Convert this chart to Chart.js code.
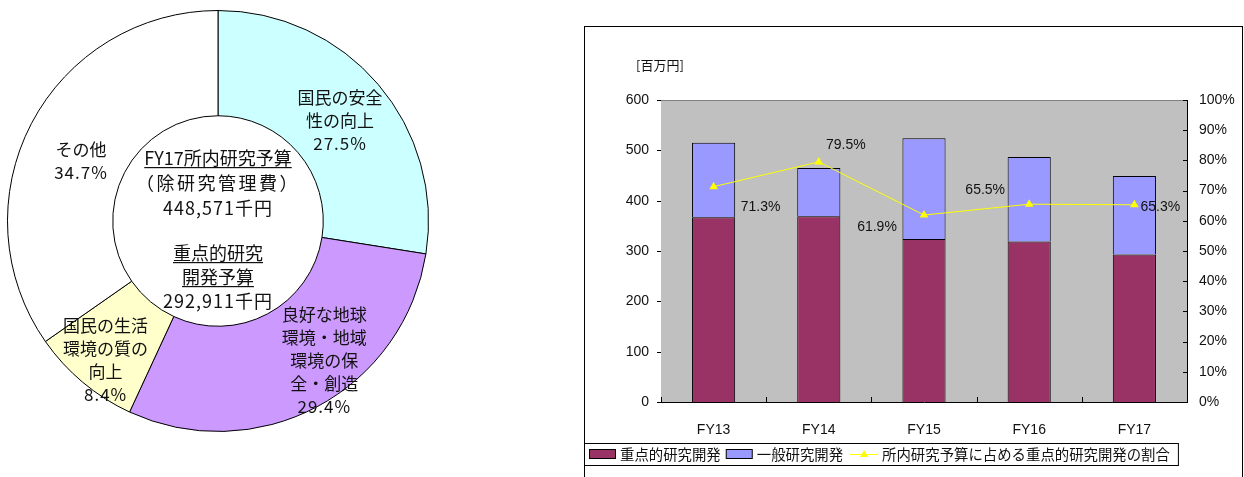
<!DOCTYPE html>
<html>
<head>
<meta charset="utf-8">
<script src="https://cdn.jsdelivr.net/npm/chart.js@4.4.0/dist/chart.umd.min.js"></script>
<style>
  body { margin: 0; background: #fff; width: 1244px; height: 477px; overflow: hidden; position: relative; }
  #donut { position: absolute; left: 0; top: 0; }
  #frame { position: absolute; left: 584px; top: 26px; width: 659px; height: 470px; border: 1px solid #000; box-sizing: border-box; }
  #bars { position: absolute; left: 584px; top: 26px; }
</style>
</head>
<body>
<canvas id="donut" width="440" height="445"></canvas>
<div id="frame"></div>
<canvas id="bars" width="658" height="451"></canvas>
<script>
// 円グラフ: FY17 重点的研究開発予算の内訳
const fieldNames = [
  ['国民の安全', '性の向上'],
  ['良好な地球', '環境・地域', '環境の保', '全・創造'],
  ['国民の生活', '環境の質の', '向上'],
  ['その他']
];
const fieldShares = [27.5, 29.4, 8.4, 34.7];
const centerLines = ['FY17所内研究予算', '（除研究管理費）', '448,571千円', '重点的研究', '開発予算', '292,911千円'];

// 棒グラフ: 年度別予算 [百万円] と重点的研究開発の割合
const years = ['FY13', 'FY14', 'FY15', 'FY16', 'FY17'];
const priorityRD = [367, 369, 324, 319, 293];
const generalRD = [148, 96, 200, 168, 156];
const priorityShare = [71.3, 79.5, 61.9, 65.5, 65.3];
const yTicks = [0, 100, 200, 300, 400, 500, 600];

const jpFont = '"Noto Sans CJK JP", "Noto Sans", sans-serif';
const numFont = '"Liberation Sans", Arial, sans-serif';

// ---- donut ----
const donutText = {
  id: 'donutText',
  afterDraw(chart) {
    const ctx = chart.ctx;
    const arcs = chart.getDatasetMeta(0).data;
    const shift = [[2, 2], [32, 0], [-11, 18], [3, 13]];
    ctx.save();
    ctx.fillStyle = '#111';
    ctx.textAlign = 'center';
    ctx.textBaseline = 'middle';
    arcs.forEach((arc, i) => {
      const p = arc.getCenterPoint();
      const lines = fieldNames[i].concat([fieldShares[i].toFixed(1) + '%']);
      const lh = 23;
      const y0 = p.y + shift[i][1] - (lines.length - 1) * lh / 2;
      lines.forEach((t, k) => {
        ctx.font = '17px ' + jpFont;
        ctx.letterSpacing = (k === lines.length - 1) ? '1px' : '0px';
        ctx.fillText(t, p.x + shift[i][0], y0 + k * lh);
      });
    });
    // 中央の文字
    const cx = arcs[0].x, cy = arcs[0].y;
    const dy = [-63, -38, -13, 32, 56, 80];
    const under = [true, false, false, true, true, false];
    const spacing = ['0px', '2.5px', '1px', '0px', '0px', '1px'];
    ctx.font = '18px ' + jpFont;
    centerLines.forEach((t, k) => {
      ctx.letterSpacing = spacing[k];
      ctx.fillText(t, cx, cy + dy[k]);
      if (under[k]) {
        const w = ctx.measureText(t).width;
        ctx.fillRect(cx - w / 2, cy + dy[k] + 9, w, 1.2);
      }
    });
    ctx.restore();
  }
};

new Chart(document.getElementById('donut'), {
  type: 'doughnut',
  data: {
    labels: fieldNames.map(n => n.join('')),
    datasets: [{
      data: fieldShares,
      backgroundColor: ['#ccffff', '#cc99ff', '#ffffcc', '#ffffff'],
      borderColor: '#000',
      borderWidth: 1
    }]
  },
  options: {
    responsive: false,
    animation: false,
    cutout: '50%',
    layout: { padding: { left: 7, right: 11, top: 10, bottom: 13 } },
    plugins: { legend: { display: false }, tooltip: { enabled: false } }
  },
  plugins: [donutText]
});

// ---- bar + line ----
const barDeco = {
  id: 'barDeco',
  beforeDatasetsDraw(chart) {
    const { ctx, chartArea: a } = chart;
    ctx.save();
    ctx.fillStyle = '#c0c0c0';
    ctx.fillRect(a.left, a.top, a.right - a.left, a.bottom - a.top);
    ctx.strokeStyle = '#808080';
    ctx.lineWidth = 1;
    ctx.beginPath();
    ctx.moveTo(a.left, a.top + 0.5);
    ctx.lineTo(a.right, a.top + 0.5);
    ctx.stroke();
    ctx.restore();
  },
  afterDraw(chart) {
    const { ctx, chartArea: a, scales } = chart;
    ctx.save();
    ctx.strokeStyle = '#000';
    ctx.lineWidth = 1;
    ctx.beginPath();
    // 目盛り線
    scales.y.ticks.forEach(t => {
      const y = Math.round(scales.y.getPixelForValue(t.value)) + 0.5;
      ctx.moveTo(a.left - 4, y); ctx.lineTo(a.left, y);
    });
    scales.y1.ticks.forEach(t => {
      const y = Math.round(scales.y1.getPixelForValue(t.value)) + 0.5;
      ctx.moveTo(a.right - 4, y); ctx.lineTo(a.right, y);
    });
    for (let i = 0; i <= years.length; i++) {
      const x = Math.round(a.left + i * (a.right - a.left) / years.length) + 0.5;
      ctx.moveTo(x, a.bottom); ctx.lineTo(x, a.bottom - 5);
    }
    ctx.stroke();

    // 単位
    ctx.fillStyle = '#111';
    ctx.font = '13px ' + jpFont;
    ctx.textAlign = 'center';
    ctx.textBaseline = 'middle';
    ctx.fillText('[百万円]', a.left - 1, a.top - 35);

    // 割合のラベル
    const off = [[47, 20], [27, -17], [-47, 12], [-44, -14], [26, 2]];
    ctx.font = '14px ' + numFont;
    chart.getDatasetMeta(2).data.forEach((pt, i) => {
      ctx.fillText(priorityShare[i].toFixed(1) + '%', pt.x + off[i][0], pt.y + off[i][1]);
    });

    // 凡例
    const top = a.bottom + 41, h = 22;
    const my = top + h / 2;
    ctx.font = '14.4px ' + jpFont;
    ctx.textAlign = 'left';
    let x = 5;
    const items = [
      { kind: 'box', fill: '#993366', text: '重点的研究開発' },
      { kind: 'box', fill: '#9999ff', text: '一般研究開発' },
      { kind: 'line', fill: '#ffff00', text: '所内研究予算に占める重点的研究開発の割合' }
    ];
    items.forEach(it => {
      if (it.kind === 'box') {
        ctx.fillStyle = it.fill;
        ctx.fillRect(x + 0.5, my - 4.5, 26, 9);
        ctx.strokeRect(x + 0.5, my - 4.5, 26, 9);
        x += 31;
      } else {
        ctx.strokeStyle = it.fill;
        ctx.beginPath(); ctx.moveTo(x + 2, my + 0.5); ctx.lineTo(x + 30, my + 0.5); ctx.stroke();
        ctx.fillStyle = it.fill;
        ctx.beginPath(); ctx.moveTo(x + 16, my - 4); ctx.lineTo(x + 20, my + 3); ctx.lineTo(x + 12, my + 3); ctx.closePath(); ctx.fill();
        ctx.strokeStyle = '#000';
        x += 34;
      }
      ctx.fillStyle = '#111';
      ctx.fillText(it.text, x, my + 1);
      x += ctx.measureText(it.text).width + 5;
    });
    ctx.strokeStyle = '#000';
    ctx.strokeRect(0.5, top + 0.5, x + 3, h);
    ctx.restore();
  }
};

new Chart(document.getElementById('bars'), {
  type: 'bar',
  data: {
    labels: years,
    datasets: [
      { label: '重点的研究開発', data: priorityRD, backgroundColor: '#993366', borderColor: '#000', borderWidth: 1, yAxisID: 'y', order: 1 },
      { label: '一般研究開発', data: generalRD, backgroundColor: '#9999ff', borderColor: '#000', borderWidth: 1, yAxisID: 'y', order: 2 },
      { type: 'line', label: '所内研究予算に占める重点的研究開発の割合', data: priorityShare, yAxisID: 'y1', order: 0,
        borderColor: '#ffff00', backgroundColor: '#ffff00', borderWidth: 1, tension: 0,
        pointStyle: 'triangle', pointRadius: 5, pointBorderWidth: 0 }
    ]
  },
  options: {
    responsive: false,
    animation: false,
    layout: { padding: { top: 74, left: 0, right: 0, bottom: 0 } },
    datasets: { bar: { barPercentage: 0.41, categoryPercentage: 1 } },
    plugins: { legend: { display: false }, tooltip: { enabled: false } },
    scales: {
      x: {
        stacked: true,
        grid: { display: false },
        border: { color: '#000', width: 1 },
        ticks: { color: '#111', font: { family: numFont, size: 14 }, padding: 12 },
        afterFit: s => { s.height = 75; }
      },
      y: {
        stacked: true,
        min: 0, max: 600,
        afterBuildTicks: s => { s.ticks = yTicks.map(v => ({ value: v })); },
        grid: { display: false, drawTicks: false },
        border: { color: '#000', width: 1 },
        ticks: { color: '#111', font: { family: numFont, size: 14 }, padding: 12 },
        afterFit: s => { s.width = 77; }
      },
      y1: {
        position: 'right',
        min: 0, max: 100,
        grid: { display: false, drawTicks: false },
        border: { color: '#000', width: 1 },
        ticks: { stepSize: 10, color: '#111', font: { family: numFont, size: 14 }, padding: 12, callback: v => v + '%' },
        afterFit: s => { s.width = 55; }
      }
    }
  },
  plugins: [barDeco]
});
</script>
</body>
</html>
